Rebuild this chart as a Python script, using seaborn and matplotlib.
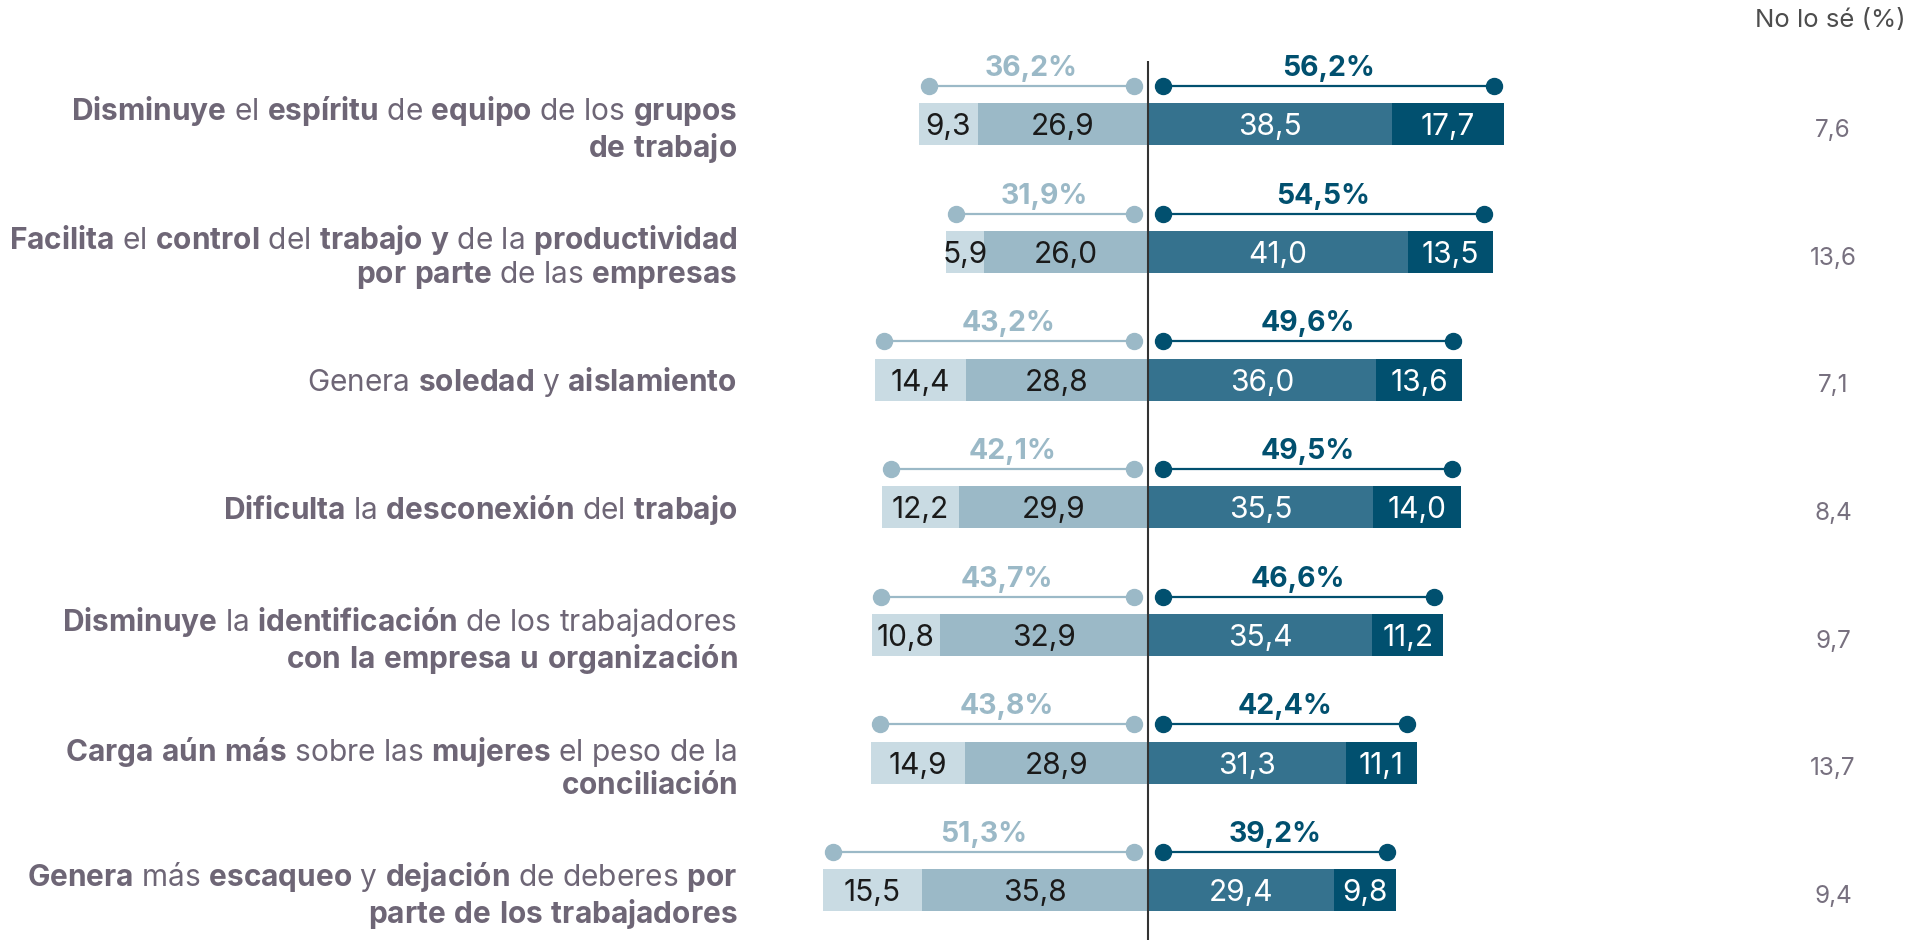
import re
import numpy as np
import pandas as pd
import matplotlib
matplotlib.use("Agg")
import matplotlib.pyplot as plt
import seaborn as sns

# ---------------- data ----------------
categories = [
    "**Disminuye** el **espíritu** de **equipo** de los **grupos**\n**de trabajo**",
    "**Facilita** el **control** del **trabajo** **y** de la **productividad**\n**por parte** de las **empresas**",
    "Genera **soledad** y **aislamiento**",
    "**Dificulta** la **desconexión** del **trabajo**",
    "**Disminuye** la **identificación** de los trabajadores\n**con la empresa u organización**",
    "**Carga aún más** sobre las **mujeres** el peso de la\n**conciliación**",
    "**Genera** más **escaqueo** y **dejación** de deberes **por**\n**parte de los trabajadores**",
]
muy_desacuerdo = [9.3, 5.9, 14.4, 12.2, 10.8, 14.9, 15.5]
desacuerdo = [26.9, 26.0, 28.8, 29.9, 32.9, 28.9, 35.8]
de_acuerdo = [38.5, 41.0, 36.0, 35.5, 35.4, 31.3, 29.4]
muy_de_acuerdo = [17.7, 13.5, 13.6, 14.0, 11.2, 11.1, 9.8]
total_desacuerdo = [36.2, 31.9, 43.2, 42.1, 43.7, 43.8, 51.3]
total_acuerdo = [56.2, 54.5, 49.6, 49.5, 46.6, 42.4, 39.2]
no_lo_se = [7.6, 13.6, 7.1, 8.4, 9.7, 13.7, 9.4]
header_no_lo_se = "No lo sé (%)"

# ---------------- style ----------------
C_LIGHTEST = "#C9DBE3"
C_LIGHT = "#9BB9C7"
C_MID = "#35728E"
C_DARK = "#01506F"
C_LABEL = "#6E6676"
C_LINE = "#333333"

sns.set_style("white")
FONT = "Inter"
plt.rcParams["font.family"] = [FONT, "DejaVu Sans"]
plt.rcParams["mathtext.fontset"] = "custom"
plt.rcParams["mathtext.rm"] = FONT
plt.rcParams["mathtext.bf"] = FONT + ":bold"
plt.rcParams["mathtext.it"] = FONT + ":italic"

FS_LABEL = 21.5
FS_NUM = 21.5
FS_PCT = 20.5


def to_mathtext(s):
    def repl(m):
        inner = m.group(1).replace(" ", r"\ ")
        return r"$\mathbf{" + inner + "}$"
    return re.sub(r"\*\*(.+?)\*\*", repl, s)


def fmt(v):
    return f"{v:.1f}".replace(".", ",")


df = pd.DataFrame({
    "categoria": categories,
    "neg_total": [-v for v in total_desacuerdo],
    "neg_des": [-v for v in desacuerdo],
    "pos_total": total_acuerdo,
    "pos_acu": de_acuerdo,
})

fig = plt.figure(figsize=(19.09, 9.40), dpi=100)
ax = fig.add_axes([0, 0, 1, 1])

BW = 0.33
for col, c in [("neg_total", C_LIGHTEST), ("neg_des", C_LIGHT),
               ("pos_total", C_DARK), ("pos_acu", C_MID)]:
    sns.barplot(data=df, x=col, y="categoria", order=categories, orient="h",
                color=c, saturation=1, width=BW, errorbar=None, linewidth=0, ax=ax)

XMIN, XMAX = -181.4, 120.2
YTOP, YBOT = -0.973, 6.389
ax.set_xlim(XMIN, XMAX)
ax.set_ylim(YBOT, YTOP)
ax.axis("off")

# central line
ax.plot([0, 0], [-0.495, YBOT + 0.1], color=C_LINE, lw=1.5, zorder=5, solid_capstyle="butt")

for i in range(len(categories)):
    md, d, a, ma = muy_desacuerdo[i], desacuerdo[i], de_acuerdo[i], muy_de_acuerdo[i]
    td, ta = total_desacuerdo[i], total_acuerdo[i]
    # values inside bars
    ax.text(-(d + md / 2), i, fmt(md), ha="center", va="center_baseline", fontsize=FS_NUM, color="#1A1A1A", zorder=6)
    ax.text(-d / 2, i, fmt(d), ha="center", va="center_baseline", fontsize=FS_NUM, color="#1A1A1A", zorder=6)
    ax.text(a / 2, i, fmt(a), ha="center", va="center_baseline", fontsize=FS_NUM, color="white", zorder=6)
    ax.text(a + ma / 2, i, fmt(ma), ha="center", va="center_baseline", fontsize=FS_NUM, color="white", zorder=6)
    # brackets
    yl = i - 0.30
    lx = [-(td - 1.5), -2.3]
    rx = [2.3, ta - 1.5]
    ax.plot(lx, [yl, yl], color=C_LIGHT, lw=1.6, marker="o", ms=11.5, zorder=4)
    ax.plot(rx, [yl, yl], color=C_DARK, lw=1.6, marker="o", ms=11.5, zorder=4)
    ax.text(np.mean(lx), i - 0.46, fmt(td) + "%", ha="center", va="center_baseline",
            fontsize=FS_PCT, fontweight="bold", color=C_LIGHT)
    ax.text(np.mean(rx), i - 0.46, fmt(ta) + "%", ha="center", va="center_baseline",
            fontsize=FS_PCT, fontweight="bold", color=C_DARK)
    # category label
    nlines = categories[i].count("\n") + 1
    yc = i + (0.04 if nlines > 1 else 0.02)
    ax.text(-64.9, yc, to_mathtext(categories[i]), ha="right", va="center",
            multialignment="right", fontsize=FS_LABEL, color=C_LABEL, linespacing=1.12)
    # no lo sé
    ax.text(108.2, i + 0.03, fmt(no_lo_se[i]), ha="center", va="center_baseline",
            fontsize=17.5, color="#77707F")

fig.text(0.998, 1 - 21 / 940, header_no_lo_se, ha="right", va="center",
         fontsize=18.5, color="#4D4D4D")

fig.savefig("out.png", dpi=100, facecolor="white")
